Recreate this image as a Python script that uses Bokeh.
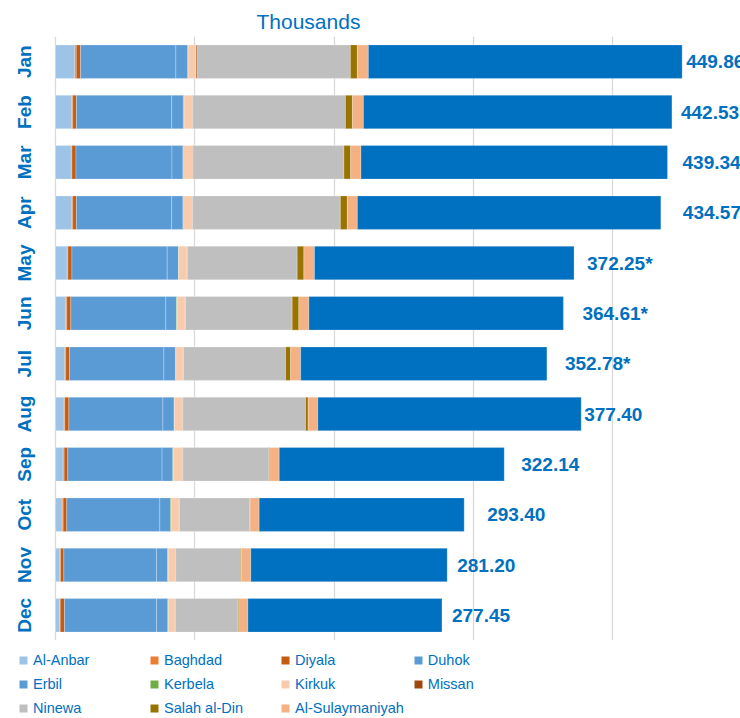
import math
from bokeh.plotting import figure
from bokeh.layouts import column
from bokeh.models import ColumnDataSource, Range1d, FactorRange, FixedTicker, Legend, LegendItem
from bokeh.core.properties import value
from bokeh.embed import file_html
from bokeh.resources import INLINE

# ---------------- data (thousands) ----------------
months = ["Jan", "Feb", "Mar", "Apr", "May", "Jun", "Jul", "Aug", "Sep", "Oct", "Nov", "Dec"]
totals = [449.86, 442.53, 439.34, 434.57, 372.25, 364.61, 352.78, 377.40, 322.14, 293.40, 281.20, 277.45]
estimated = [False, False, False, False, True, True, True, False, False, False, False, False]

al_anbar = [13.9, 11.7, 11.3, 11.5, 8.4, 7.4, 6.7, 6.2, 5.5, 4.8, 3.1, 2.9]
baghdad = [1.0, 0.7, 0.5, 0.9, 0.5, 0.7, 0.7, 0.5, 0.7, 0.7, 0.5, 0.5]
diyala = [3.1, 2.6, 2.9, 2.6, 2.9, 2.9, 2.6, 2.9, 2.6, 2.6, 2.4, 3.1]
duhok = [68.4, 68.4, 68.9, 68.4, 68.4, 68.2, 67.8, 67.5, 67.7, 66.8, 66.5, 66.0]
erbil = [8.6, 8.4, 7.9, 8.1, 8.1, 7.7, 8.3, 8.1, 7.7, 7.7, 7.9, 8.1]
kerbela = [0.2, 0.5, 0.5, 0.5, 0.2, 0.4, 0.3, 0.2, 0.5, 0.7, 0.5, 0.5]
kirkuk = [5.7, 6.0, 6.5, 6.2, 6.0, 5.8, 5.3, 5.8, 6.5, 5.5, 5.2, 4.8]
missan = [0.7, 0.25, 0.2, 0.2, 0.2, 0.2, 0.2, 0.2, 0.2, 0.2, 0.2, 0.2]
ninewa = [110.1, 109.6, 108.4, 106.1, 78.8, 76.6, 73.3, 88.1, 61.7, 50.5, 46.5, 44.8]
salah_al_din = [5.0, 5.0, 4.8, 5.0, 4.8, 4.8, 3.6, 1.9, 0.7, 0.2, 0.7, 0.7]
al_sulaymaniyah = [7.9, 7.9, 7.4, 7.2, 7.6, 7.2, 7.2, 6.9, 6.8, 6.5, 6.7, 6.5]
others = [225.26, 221.48, 220.04, 217.87, 186.35, 182.71, 176.78, 189.1, 161.54, 147.2, 141.0, 139.35]

series_names = ["Al-Anbar", "Baghdad", "Diyala", "Duhok", "Erbil", "Kerbela", "Kirkuk",
                "Missan", "Ninewa", "Salah al-Din", "Al-Sulaymaniyah", "Other"]
series_values = [al_anbar, baghdad, diyala, duhok, erbil, kerbela, kirkuk,
                 missan, ninewa, salah_al_din, al_sulaymaniyah, others]
in_legend = [True] * 11 + [False]
grid_ticks = [0, 100, 200, 300, 400]

# ---------------- styles ----------------
colors = ["#9DC3E6", "#ED7D31", "#C55A11", "#5B9BD5", "#5B9BD5", "#70AD47", "#F8CBAD",
          "#9E480E", "#BFBFBF", "#997300", "#F4B183", "#0070C0"]
label_dx = [4, 9, 15, 22, 13, 19, 18, 3, 17, 23, 10, 10]   # px offset of each total label
BLUE = "#0070C0"
FONT = "Liberation Sans"
PX_PER_UNIT = 1.393      # horizontal scale (px per thousand)
LEFT_PX = 55             # room for the month labels
X_MAX = (740 - LEFT_PX) / PX_PER_UNIT
X_MIN = -LEFT_PX / PX_PER_UNIT

keys = ["s%d" % i for i in range(len(series_names))]
data = {"month": months}
for k, v in zip(keys, series_values):
    data[k] = v
src = ColumnDataSource(data)

lab_src = ColumnDataSource(dict(
    month=months,
    total=totals,
    label=["%.2f%s" % (t, "*" if e else "") for t, e in zip(totals, estimated)],
    dx=label_dx,
))
month_src = ColumnDataSource(dict(month=months, base=[0] * len(months)))

p = figure(width=740, height=640,
           y_range=FactorRange(factors=months[::-1]),
           x_range=Range1d(X_MIN, X_MAX),
           output_backend="svg", toolbar_location=None,
           min_border_left=0, min_border_right=0,
           min_border_top=36, min_border_bottom=0)
p.outline_line_color = None
p.background_fill_color = "white"
p.xaxis.visible = False
p.yaxis.visible = False
p.ygrid.visible = False
p.xgrid.ticker = FixedTicker(ticks=grid_ticks)
p.xgrid.grid_line_color = "#D9D9D9"
p.xgrid.grid_line_width = 1.3

p.hbar_stack(keys, y="month", height=0.667, source=src,
             fill_color=colors, line_color="white", line_alpha=0.25, line_width=1)

# total labels
p.text(x="total", y="month", text="label", x_offset="dx", source=lab_src,
       text_align="left", text_baseline="middle",
       text_font=value(FONT), text_font_style="bold", text_font_size="19px",
       text_color=BLUE)

# month labels (vertical, left of the value axis)
p.text(x="base", y="month", text="month", x_offset=-31, angle=math.pi / 2, source=month_src,
       text_align="center", text_baseline="alphabetic",
       text_font=value(FONT), text_font_style="bold", text_font_size="19px",
       text_color=BLUE)

# title
p.title.text = "Thousands"
p.title.align = "left"
p.title.offset = 256
p.title.standoff = 7
p.title.text_font = FONT
p.title.text_font_style = "normal"
p.title.text_font_size = "21px"
p.title.text_color = BLUE

# ---------------- legend strip ----------------
lg = figure(width=740, height=78, x_range=Range1d(0, 1), y_range=Range1d(0, 1),
            output_backend="svg", toolbar_location=None,
            min_border_left=0, min_border_right=0, min_border_top=0, min_border_bottom=0)
lg.outline_line_color = None
lg.xaxis.visible = False
lg.yaxis.visible = False
lg.xgrid.visible = False
lg.ygrid.visible = False

items = []
for name, col, show in zip(series_names, colors, in_legend):
    if not show:
        continue
    # swatch renderer; its single point lies outside the strip's ranges
    r = lg.scatter(x=[-5], y=[-5], marker="square", size=8, fill_color=col, line_color=None)
    items.append(LegendItem(label=name, renderers=[r]))

legend = Legend(items=items, orientation="horizontal", ncols=4,
                location=(13, 0),
                glyph_width=20, glyph_height=20, label_height=20, label_width=107,
                label_standoff=0, spacing=4, padding=0, margin=0,
                border_line_color=None, background_fill_alpha=0,
                label_text_font=FONT, label_text_font_size="14.5px",
                label_text_color=BLUE)
lg.add_layout(legend, "center")

layout = column(p, lg, spacing=0)
open("out.html", "w").write(file_html(layout, INLINE))
